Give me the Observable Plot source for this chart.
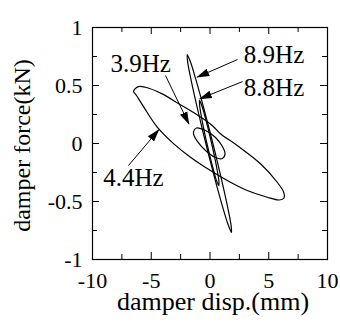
<!DOCTYPE html>
<html><head><meta charset="utf-8">
<script src="https://cdn.jsdelivr.net/npm/d3@7"></script>
<script src="https://cdn.jsdelivr.net/npm/@observablehq/plot@0.6"></script>
<style>body{margin:0;background:#fff} svg text{font-family:'Liberation Serif','Times New Roman',serif !important;}</style>
</head><body><div id="chart"></div>
<script>
// hysteresis loops: damper displacement (mm) vs damper force (kN)
const loop44Disp  = [-6.5, -6.1, -5.49, -4.07, -2.66, -1.23, 0.19, 0.89, 2.31, 4.30, 5.72, 6.28, 6.3, 5.9, 4.87, 3.17, 1.74, 0.04, -1.66, -3.08, -4.49, -5.63, -6.3];
const loop44Force = [0.45, 0.49, 0.485, 0.428, 0.342, 0.256, 0.155, 0.084, -0.017, -0.175, -0.334, -0.422, -0.47, -0.487, -0.463, -0.405, -0.334, -0.233, -0.118, -0.003, 0.141, 0.313, 0.42];
const loop89Disp  = [-1.94, -1.65, -1.20, -0.52, 0.245, 0.958, 1.506, 1.785, 1.83, 1.545, 1.086, 0.406, -0.355, -1.068, -1.616, -1.895];
const loop89Force = [0.767, 0.70, 0.55, 0.30, 0, -0.30, -0.55, -0.70, -0.767, -0.70, -0.55, -0.30, 0, 0.30, 0.55, 0.70];
const loop88Disp  = [-0.89, -0.71, -0.47, -0.14, 0.14, 0.40, 0.645, 0.765, 0.75, 0.59, 0.353, 0.02, -0.26, -0.52, -0.765, -0.885];
const loop88Force = [0.371, 0.33, 0.25, 0.12, 0, -0.12, -0.25, -0.33, -0.362, -0.33, -0.25, -0.12, 0, 0.12, 0.25, 0.33];
const loop39Disp  = [-1.40, -1.15, -0.38, 0.47, 1.06, 1.28, 1.06, 0.47, -0.38, -1.06, -1.36];
const loop39Force = [0.103, 0.134, 0.112, 0.052, -0.026, -0.086, -0.129, -0.121, -0.06, 0.017, 0.069];

// annotation labels and arrows
const labelText  = ["3.9Hz", "8.9Hz", "8.8Hz", "4.4Hz"];
const labelDisp  = [-8.47, 2.88, 2.88, -9.09];
const labelForce = [0.684, 0.759, 0.476, -0.30];
const arrowFromDisp  = [-3.79, 2.34, 2.77, -6.94];
const arrowFromForce = [0.586, 0.724, 0.534, -0.19];
const arrowToDisp    = [-1.80, -1.09, -0.87, -4.36];
const arrowToForce   = [0.17, 0.572, 0.385, 0.118];

// ticks
const xMajor = [-10, -5, 0, 5, 10];
const xMinor = [-7.5, -2.5, 2.5, 7.5];
const yMajor = [-1, -0.5, 0, 0.5, 1];
const yMinor = [-0.75, -0.25, 0.25, 0.75];
const xTitle = "damper disp.(mm)";
const yTitle = "damper force(kN)";

const loops = [
  ["4.4Hz", loop44Disp, loop44Force],
  ["8.9Hz", loop89Disp, loop89Force],
  ["8.8Hz", loop88Disp, loop88Force],
  ["3.9Hz", loop39Disp, loop39Force]
].flatMap(([f, xs, ys]) => xs.map((x, i) => ({freq: f, disp: x, force: ys[i]})));
const labels = labelText.map((t, i) => ({t, x: labelDisp[i], y: labelForce[i]}));
const arrows = arrowFromDisp.map((x, i) => ({x1: x, y1: arrowFromForce[i], x2: arrowToDisp[i], y2: arrowToForce[i]}));

const W = 340, H = 324, mL = 92, mR = 13, mT = 27, mB = 65;
const iw = W - mL - mR, ih = H - mT - mB;
const major = 7, minor = 5;
const fmt = d => String(d);
const serif = "'Liberation Serif', 'Times New Roman', serif";

const svg = Plot.plot({
  width: W, height: H,
  marginLeft: mL, marginRight: mR, marginTop: mT, marginBottom: mB,
  style: {fontFamily: serif, background: "#fff", color: "#000"},
  x: {domain: [-10, 10], label: null},
  y: {domain: [-1, 1], label: null},
  marks: [
    Plot.ruleX(xMajor, {x: d => d, insetTop: ih - major, stroke: "#000"}),
    Plot.ruleX(xMajor, {x: d => d, insetBottom: ih - major, stroke: "#000"}),
    Plot.ruleX(xMinor, {x: d => d, insetTop: ih - minor, stroke: "#000"}),
    Plot.ruleX(xMinor, {x: d => d, insetBottom: ih - minor, stroke: "#000"}),
    Plot.ruleY(yMajor, {y: d => d, insetRight: iw - major, stroke: "#000"}),
    Plot.ruleY(yMajor, {y: d => d, insetLeft: iw - major, stroke: "#000"}),
    Plot.ruleY(yMinor, {y: d => d, insetRight: iw - minor, stroke: "#000"}),
    Plot.ruleY(yMinor, {y: d => d, insetLeft: iw - minor, stroke: "#000"}),
    Plot.frame({stroke: "#000", strokeWidth: 1.2}),
    Plot.axisX(xMajor, {tickSize: 0, tickPadding: 13, tickFormat: fmt, fontSize: 22, fontFamily: serif, fontVariant: "normal", fill: "#000", label: null}),
    Plot.axisY(yMajor, {tickSize: 0, tickPadding: 10, tickFormat: fmt, fontSize: 22, fontFamily: serif, fontVariant: "normal", fill: "#000", label: null}),
    Plot.line(loops, {x: "disp", y: "force", z: "freq", curve: "catmull-rom-closed", stroke: "#000", strokeWidth: 1.2}),
    Plot.link(arrows, {x1: "x1", y1: "y1", x2: "x2", y2: "y2", stroke: "#000", strokeWidth: 1, markerEnd: "arrow"}),
    Plot.text(labels, {x: "x", y: "y", text: "t", textAnchor: "start", fontSize: 25, fontFamily: serif, fill: "#000"}),
    Plot.text([xTitle], {text: d => d, frameAnchor: "bottom", lineAnchor: "middle", textAnchor: "middle", dy: 42, dx: 3, fontSize: 26, fontFamily: serif, fill: "#000"}),
    Plot.text([yTitle], {text: d => d, frameAnchor: "left", lineAnchor: "middle", textAnchor: "middle", rotate: -90, dx: -70, dy: 2, fontSize: 24, fontFamily: serif, fill: "#000"})
  ]
});

svg.querySelectorAll("marker").forEach(m => {
  m.setAttribute("viewBox", "-12 -4.5 13 9");
  m.setAttribute("markerWidth", 13);
  m.setAttribute("markerHeight", 9);
  m.setAttribute("markerUnits", "userSpaceOnUse");
  m.setAttribute("fill", "#000");
  m.setAttribute("stroke", "none");
  m.innerHTML = '<path d="M1,0L-12,-4L-12,4Z"/>';
});
svg.querySelectorAll("text, g").forEach(t => { t.style.fontFamily = serif; });

document.getElementById("chart").appendChild(svg);
</script></body></html>
